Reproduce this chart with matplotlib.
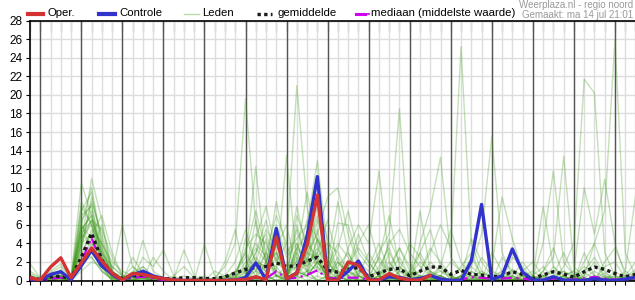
import matplotlib
matplotlib.use("Agg")
import matplotlib.pyplot as plt
from matplotlib.lines import Line2D

plt.rcParams['font.family'] = ['Liberation Sans', 'DejaVu Sans']

# 6-hourly steps, starting Ma 14 18:00
dagen = ["Di 15", "Wo 16", "Do 17", "Vr 18", "Za 19", "Zo 20", "Ma 21",
         "Di 22", "Wo 23", "Do 24", "Vr 25", "Za 26", "Zo 27", "Ma 28"]

oper = [0.3, 0.05, 1.45, 2.45, 0.3, 1.9, 3.5, 2.1, 0.8, 0.05, 0.75, 0.65, 0.4, 0.2, 0.05,
        0, 0, 0, 0, 0, 0.05, 0.1, 0.4, 0.1, 4.7, 0.2, 0.8, 3.8, 9.2, 0.05,
        0.05, 2.0, 1.65, 0.05, 0.05, 0.75, 0.25, 0.05, 0.05, 0.55]

controle = [0.2, 0, 0.65, 0.95, 0.1, 1.6, 3.25, 1.55, 0.7, 0.05, 0.6, 1.0, 0.5, 0.2, 0.05,
            0, 0, 0, 0, 0, 0.05, 0.3, 1.9, 0.1, 5.6, 0.2, 0.8, 4.8, 11.2, 0.1,
            0.1, 1.0, 2.1, 0.1, 0.05, 0.4, 0.3, 0.1, 0.2, 0.55, 0.15, 0, 0, 2.1, 8.2,
            0.1, 0.5, 3.4, 0.9, 0.05, 0.05, 0.4, 0.05, 0, 0, 0.2, 0.05, 0, 0.15, 0.35]

gemiddelde = [0.3, 0.1, 0.4, 0.45, 0.2, 2.5, 5.1, 2.2, 0.7, 0.2, 0.5, 0.6, 0.4, 0.2, 0.2,
              0.3, 0.3, 0.2, 0.2, 0.4, 0.8, 1.2, 1.4, 1.5, 1.9, 1.5, 1.6, 2.1, 2.5, 1.1,
              0.9, 1.2, 1.4, 0.4, 0.8, 1.2, 1.3, 0.5, 1.0, 1.45, 1.45, 0.65, 1.1, 0.65, 0.6,
              0.4, 0.5, 0.95, 0.65, 0.2, 0.6, 0.95, 0.7, 0.35, 0.95, 1.45, 1.2, 0.75, 0.4, 0.65]

mediaan = [0.1, 0, 0.2, 0.3, 0.1, 2.0, 4.6, 1.8, 0.5, 0.1, 0.3, 0.4, 0.2, 0.05, 0,
           0.05, 0.05, 0, 0, 0.05, 0.05, 0.1, 0.3, 0.2, 1.0, 0.2, 0.3, 0.6, 1.1, 0.2,
           0.3, 0.3, 0.3, 0.1, 0.15, 0.5, 0.4, 0.1, 0.2, 0.5, 0.2, 0.1, 0.1, 0.35, 0.3,
           0.2, 0.2, 0.3, 0.2, 0.05, 0.1, 0.2, 0.1, 0.1, 0.2, 0.4, 0.2, 0.1, 0.1, 0.2]

leden = [
    [0.2, 0, 0.5, 1.2, 0.1, 6.5, 8.2, 3.0, 0.4, 0, 0.3, 1.0, 0.2, 0, 0, 0.1, 0, 0, 0.3, 1.5, 4.0,
     19.6, 6.0, 2.0, 0.5, 0.2, 3.0, 1.0, 4.5, 1.0, 0.3, 2.0, 0.5, 0, 0, 0.5, 1.5, 0.3, 0, 0, 0.2,
     0, 0, 0.5, 0.2, 0, 0, 0, 0.5, 1.0, 0.2, 0, 0, 0, 0.5, 2.0, 0.3, 0, 0, 0.4],
    [1.8, 0.3, 0.2, 0.5, 0, 4.0, 11.0, 6.5, 1.0, 0.2, 0, 0.8, 0.5, 0.2, 0, 0, 0, 0, 0, 0.2, 0.8,
     2.5, 12.3, 1.5, 3.0, 0.5, 6.0, 2.0, 5.5, 0.5, 2.0, 0.5, 0, 0.3, 2.5, 1.0, 0, 0, 0.5, 0.2, 0,
     0.3, 0, 1.5, 0.5, 0, 0, 0.2, 0, 0, 0, 0.5, 1.0, 0.2, 0, 0.3, 0, 0.5, 0.2, 0],
    [0.5, 0, 1.0, 1.8, 0.2, 10.5, 7.0, 2.5, 0.5, 0, 0.5, 1.5, 0.3, 0.2, 0, 0, 0.2, 0, 0, 0, 0.5,
     3.5, 5.0, 4.0, 1.0, 13.5, 2.0, 3.5, 7.0, 2.0, 0.5, 0, 0.8, 0.2, 0, 3.0, 1.0, 0, 0, 0.3, 0.5,
     0, 0.2, 0, 0, 0.5, 1.0, 0.3, 0, 0, 0, 0, 0.2, 0.5, 1.5, 0.5, 0, 0, 0.3, 1.2],
    [0, 0, 0.2, 0.8, 0, 3.5, 9.0, 4.5, 0.8, 6.0, 1.5, 0.5, 0, 0, 0.3, 0, 0, 0.5, 0, 0.3, 1.0,
     1.0, 3.0, 6.5, 2.0, 4.0, 21.0, 8.0, 2.0, 0.3, 0, 1.5, 3.5, 2.0, 0.5, 0, 0, 1.0, 3.0, 0.8, 0,
     0.2, 0, 0, 0.5, 0, 0, 1.2, 0.5, 0, 0.5, 0.3, 0, 0, 0, 0.2, 0.8, 0, 0, 0],
    [0.3, 0, 0.5, 0.3, 0, 5.0, 6.5, 2.0, 0.3, 0, 0.2, 2.5, 1.5, 3.3, 0.5, 0, 0, 0, 0, 0, 0.3,
     0.8, 2.0, 1.5, 8.5, 3.0, 4.5, 6.0, 12.9, 3.5, 1.0, 0.5, 0, 0, 0.3, 0.5, 0, 0.5, 2.0, 1.0, 0.3,
     0, 0.5, 2.5, 0.5, 0, 0, 0, 0.2, 0.3, 0, 0, 0.5, 0, 0.2, 0, 0, 1.0, 0.2, 0],
    [0.8, 0.2, 0, 0.3, 0, 7.5, 9.5, 3.5, 0.5, 0.3, 0, 0.3, 0, 0, 0, 0.5, 0.2, 0, 0, 0, 0,
     0.5, 1.0, 4.5, 0.5, 1.5, 8.0, 3.0, 5.0, 9.0, 10.0, 5.0, 1.5, 0.5, 1.0, 0.2, 0, 0, 0, 0.5, 1.5,
     0.5, 0, 0.3, 0, 0, 0.3, 0.5, 0, 0, 0, 0, 0.3, 0, 0.8, 0.3, 0, 0, 0, 0.3],
    [0, 0, 0.3, 0.5, 0, 6.0, 4.5, 1.5, 0, 0, 0.5, 1.0, 0.2, 0, 0, 0, 0.3, 0, 0.2, 0.5, 0.3,
     2.0, 0.5, 0, 4.0, 0.8, 5.5, 2.0, 3.0, 0.5, 0, 3.5, 6.0, 4.0, 11.8, 2.0, 0.5, 0, 0.5, 0.3, 0,
     0, 0, 0.2, 1.0, 0.3, 0, 0, 0, 0.5, 1.5, 0.3, 0, 0, 0, 0.5, 0.2, 0, 0, 0],
    [0.2, 0, 0.2, 0.2, 0, 2.5, 5.5, 4.0, 1.5, 0.5, 0.3, 0.2, 0, 0, 0, 0, 0, 0, 0, 0.5, 2.0,
     5.5, 2.0, 1.0, 0.5, 0, 1.0, 3.0, 2.0, 0.5, 6.2, 6.0, 2.0, 1.0, 3.0, 5.0, 18.5, 2.0, 0.3, 0, 0,
     0, 0.5, 0, 0, 0, 1.0, 0.3, 0, 0, 0, 0.2, 0, 0.3, 0, 0, 0, 0, 0.5, 0.2],
    [0, 0, 0, 0.2, 0, 5.5, 7.0, 3.0, 0.2, 0, 2.5, 0.8, 0, 0, 0.2, 3.3, 0.5, 0, 0, 0, 0,
     0, 0.3, 2.0, 1.0, 0.5, 3.0, 9.5, 4.0, 0, 0.5, 1.0, 0.3, 0, 0.5, 2.0, 0.5, 0, 4.0, 7.7, 13.3,
     2.5, 1.0, 0.2, 0, 0, 0, 0.5, 2.0, 0.5, 0, 0, 0, 0, 0.3, 0, 0.5, 0.2, 0, 0],
    [0.5, 0, 0.8, 1.5, 0.3, 8.5, 6.0, 2.0, 0.3, 0, 0.3, 0.5, 0.5, 0, 0, 0, 0, 0.3, 0, 2.0, 5.5,
     0.5, 2.5, 1.0, 5.5, 1.0, 0.5, 2.0, 6.5, 3.0, 0.5, 0, 0, 0, 0, 0.8, 2.5, 0.5, 1.0, 3.0, 6.0,
     3.5, 25.2, 4.0, 1.0, 0.2, 0, 0, 0.3, 0, 0.5, 1.0, 0.2, 0, 0, 0, 0.3, 0.5, 0, 0],
    [0.3, 0, 0, 0.3, 0, 4.5, 6.5, 5.5, 2.5, 0.5, 0, 0.3, 0, 0, 0, 0, 0, 0, 0, 0, 0.2,
     1.5, 4.0, 2.5, 0.5, 0.3, 2.5, 1.5, 3.5, 1.5, 4.0, 2.5, 0.5, 0, 0.2, 0.5, 0, 1.0, 0.3, 0, 0.5,
     0, 0.3, 1.5, 5.0, 15.5, 3.0, 0.5, 0, 0, 0, 0.3, 1.0, 0.5, 0, 0, 0, 0, 0.2, 0.5],
    [0, 0, 0.3, 0.8, 0.2, 3.0, 5.0, 7.0, 3.0, 0.5, 0.5, 4.3, 1.0, 0.3, 0, 0, 0, 0, 0, 0, 0,
     0, 1.0, 3.0, 0.5, 0, 4.0, 1.0, 2.5, 0.3, 0, 1.5, 4.0, 6.0, 2.0, 1.0, 3.5, 1.5, 0.5, 0.2, 0.5,
     2.0, 1.0, 0.5, 0, 1.5, 9.0, 4.5, 1.0, 0.5, 0, 0, 0, 0, 0.3, 1.0, 0.3, 0, 0, 0.2],
    [1.0, 0.3, 0.5, 0.5, 0, 1.5, 4.0, 2.0, 0.5, 0.2, 0, 0.2, 2.5, 1.0, 0, 0, 0, 3.9, 0.5, 0, 0,
     0.3, 2.0, 1.5, 3.0, 0.5, 1.5, 4.5, 1.0, 2.0, 0.5, 0, 0, 0, 0.5, 0, 0, 0, 0, 2.0, 1.0,
     0.5, 0, 0, 0, 0, 0, 1.0, 0.5, 0.3, 4.0, 11.8, 2.0, 0.5, 0, 0, 0, 0, 0, 0],
    [0.2, 0, 0.5, 1.0, 0, 6.0, 3.5, 1.0, 0.2, 0, 0.8, 1.5, 0.5, 0, 0, 0, 0, 0, 0, 0.3, 0.8,
     3.0, 1.0, 0.5, 0, 0, 0.5, 3.0, 2.5, 4.0, 3.0, 1.0, 0.5, 0, 1.5, 3.5, 0.5, 0, 0.2, 0, 0,
     0, 0.5, 1.0, 0.3, 0, 0, 0, 0.5, 0, 1.0, 2.5, 13.4, 1.5, 0.3, 0, 0, 0.3, 0, 0.5],
    [0, 0, 0, 0.2, 0, 2.0, 3.0, 1.5, 0, 0, 0, 0.5, 0.3, 0, 0, 0, 0, 0, 0, 0.2, 0.5,
     1.0, 6.5, 2.0, 1.5, 0, 1.0, 0.5, 2.0, 0.5, 1.5, 3.0, 1.0, 0.5, 0, 0, 1.0, 0.5, 0, 0, 0,
     0, 0.3, 0, 0, 0.3, 0.5, 0, 0, 0, 0, 0, 1.5, 4.0, 21.7, 20.2, 3.0, 0.5, 0, 0],
    [0.5, 0.2, 0.5, 0.3, 0, 4.0, 5.0, 3.0, 1.0, 0.3, 0, 0, 0, 0, 0, 0, 0, 0, 0, 0, 0,
     0.5, 0, 1.0, 2.5, 0.5, 2.0, 1.0, 1.5, 0, 2.0, 1.0, 0, 0, 0, 0.3, 0, 0, 0, 0.5, 1.0,
     0.3, 0, 0, 0, 0, 0, 0, 0, 0.5, 0, 0, 0, 0, 2.0, 4.0, 7.5, 26.0, 3.0, 0.5],
    [0, 0, 0.2, 0.5, 0, 3.0, 2.5, 1.0, 0, 0, 0.3, 0.2, 0, 0, 0, 0, 0, 0, 0, 0, 0.3,
     0.5, 3.0, 5.0, 2.0, 1.0, 1.5, 0.5, 4.5, 2.5, 0, 0, 0.5, 0.3, 2.5, 7.0, 1.5, 0.5, 0, 0, 0,
     0, 0, 0, 0, 0, 0, 0, 0, 0, 0.5, 0, 0.5, 1.0, 10.0, 5.0, 10.9, 4.0, 0.5, 0],
    [0.3, 0, 0, 0.5, 0, 2.0, 4.5, 2.5, 0.5, 0, 0, 1.0, 0.5, 0, 0, 0, 0, 0, 0, 0, 0,
     0, 1.5, 1.0, 4.0, 0.5, 3.5, 2.0, 1.0, 0.5, 0.3, 1.5, 0, 0, 0, 0.5, 0.5, 0, 7.5, 1.0, 0,
     0, 0, 0, 0, 0, 0, 0, 0.5, 0, 0, 0, 0, 0, 0.3, 0, 2.0, 3.5, 1.0, 9.1],
    [0, 0, 0.2, 0.3, 0, 1.0, 2.0, 1.5, 0.5, 0.2, 1.0, 0.5, 0, 0, 0, 0, 0, 0, 0, 0, 0,
     0.3, 0, 0, 0.5, 0.5, 0.5, 1.0, 0, 0.5, 2.5, 0.5, 0, 0, 0, 0, 0, 0.5, 0.3, 0.5, 0.5,
     0, 0, 0, 0, 0, 0, 0, 0, 0.5, 8.0, 1.5, 0, 0, 0, 0, 0, 0, 0, 0.5],
    [0.2, 0, 0.3, 0.2, 0, 5.0, 7.5, 2.5, 0.3, 0, 0, 0, 0, 0, 0, 0, 0, 0, 0, 0, 0,
     0, 0, 0, 0.5, 0, 0.3, 0.5, 0, 0, 1.0, 0.3, 0, 0, 0, 0, 0, 0, 0, 0, 0,
     0, 0.3, 0.5, 0, 0, 0, 0, 0, 0, 0, 0, 0, 0.3, 0, 0, 0, 0, 0, 0],
    [0, 0, 0, 0, 0, 4.5, 6.0, 4.0, 2.0, 1.0, 0.5, 0.3, 0, 0, 0, 0, 0, 0, 1.0, 0.5, 0,
     0.3, 0.5, 0, 0, 0.3, 1.0, 0.5, 2.0, 0.5, 0, 0, 0, 0, 0.5, 0, 0, 0, 0.5, 0, 0,
     0, 0, 0, 0, 0, 0, 0, 0, 0, 0.3, 0, 0, 0, 0, 0, 0, 0, 0, 0.3],
    [0, 0, 0, 0.2, 0, 1.5, 3.0, 6.0, 1.0, 0, 0, 0, 0, 0, 0, 0, 0, 0, 0, 0, 0,
     0.5, 0, 0.5, 0, 0, 0, 1.0, 0, 0.5, 0, 0, 0, 0, 0, 0, 0, 0, 0, 0, 0.5,
     0, 0.5, 0, 0, 0, 0.3, 0, 0, 0, 0, 0, 0, 0.5, 0, 0, 0, 0, 0, 0],
    [0.1, 0, 0.3, 0.6, 0, 2.0, 2.5, 1.0, 0.2, 0, 0, 0, 0, 0, 0, 0, 0, 0, 0, 0, 0,
     0, 0.3, 0, 0, 0.5, 0, 0, 0.5, 0, 0, 0, 0, 0, 0.5, 0.3, 0, 0, 0, 0, 0,
     0, 0, 0, 0, 0, 0, 0.5, 0, 0, 0, 0, 0.5, 0, 0, 0, 0, 0, 0, 0],
    [0, 0, 0, 0, 0, 3.5, 8.5, 5.0, 1.0, 0, 0, 0, 0, 0, 0, 0, 0, 0, 0, 0, 0,
     0, 0, 0.5, 0, 0, 0.5, 0, 0, 0, 0.5, 0, 0, 0, 0, 0, 0, 0, 0, 0.5, 0,
     0, 0, 0, 0, 0, 0, 0, 0, 0, 0, 0, 0, 0, 0, 0, 0, 0, 0, 0],
    [0.5, 0, 0.3, 0.5, 0, 5.5, 7.0, 2.0, 0.5, 0, 0.5, 0.3, 0, 0, 0.5, 1.5, 0.3, 0, 0, 0, 0.5,
     1.5, 3.5, 2.0, 6.0, 2.5, 4.0, 1.5, 3.0, 6.5, 2.0, 0.5, 1.0, 0.5, 0, 4.5, 2.0, 0.5, 1.0, 3.5, 2.0,
     0.5, 0, 1.0, 0.3, 0, 2.5, 1.0, 0, 0, 0, 0.5, 3.0, 0.5, 1.0, 2.5, 0.5, 0, 0.5, 2.0],
    [0, 0, 0.5, 0.2, 0, 7.0, 8.0, 2.5, 1.0, 0.3, 1.5, 0.5, 0, 0, 0, 0, 0, 0, 0, 0.3, 1.0,
     3.0, 7.5, 3.0, 1.0, 0.5, 3.5, 5.0, 1.5, 0.5, 0, 1.5, 5.0, 2.0, 0.5, 0, 1.0, 4.0, 2.5, 0.5, 0,
     0, 0.5, 4.5, 2.0, 0.5, 0, 0, 1.0, 2.0, 0.5, 0, 0, 0, 3.0, 0.5, 0, 0, 1.0, 0.3],
    [0.3, 0, 0.2, 0.3, 0, 6.0, 10.0, 4.0, 0.5, 0, 0, 0.5, 0.5, 0, 0, 0, 0, 0.3, 0, 0.5, 0,
     0.5, 4.5, 8.0, 3.0, 1.0, 2.0, 6.5, 4.5, 2.0, 8.5, 3.0, 0.5, 0, 0, 1.5, 3.5, 1.0, 0, 0, 1.5,
     5.5, 2.0, 0.5, 0, 0, 0, 2.5, 1.5, 0, 0, 1.5, 0.5, 0, 0, 0, 1.5, 2.0, 0.3, 0],
    [0, 0, 0, 0.5, 0, 4.0, 6.5, 3.5, 0.5, 0, 0, 0, 0, 0, 0, 0, 0, 0, 0, 0.2, 0,
     4.5, 2.0, 5.5, 3.5, 6.0, 1.0, 0.5, 2.0, 1.0, 3.5, 7.5, 3.0, 1.5, 4.0, 1.0, 0, 0, 3.0, 5.5, 1.5,
     0, 0, 0, 2.5, 1.0, 0.5, 0, 0, 0, 0, 0, 0.5, 1.0, 0, 0, 0, 0, 0, 1.0],
    [0.6, 0.1, 0.3, 0.2, 0, 5.0, 4.0, 3.0, 1.5, 0.5, 0, 0, 0, 0, 0, 0, 0, 0, 0, 0, 0,
     0, 0.5, 3.0, 7.0, 4.0, 0.5, 2.5, 8.0, 4.5, 1.0, 0, 0.5, 3.0, 1.0, 0.5, 0, 0, 0, 1.0, 0.5,
     0, 1.5, 3.0, 0.5, 0, 0, 0, 0, 0, 0, 0, 0, 0, 0.5, 4.0, 1.0, 0, 0, 0],
    [0, 0, 0.2, 0.5, 0, 8.0, 6.0, 1.5, 0, 0, 0, 0, 0, 0, 0, 0, 0, 0, 0, 0, 0,
     1.0, 0, 2.0, 4.5, 0.5, 7.0, 4.0, 2.5, 0, 0.5, 2.0, 1.5, 0, 1.0, 4.0, 5.5, 3.0, 1.5, 0.5, 0,
     0, 0, 0, 0, 3.0, 1.0, 0, 0, 0, 1.0, 3.5, 0.5, 0, 0, 0.5, 0, 0, 0, 0],
]

n = len(controle)
x = list(range(n))

fig = plt.figure(figsize=(6.35, 3.0), dpi=100)
ax = fig.add_axes([30 / 635, 19.5 / 300, 605.5 / 635, 259.8 / 300])

for lid in leden:
    ax.plot(x, lid, color="#3d9a1a", alpha=0.3, lw=1.0, zorder=2)
ax.plot(x, mediaan, color="#d000f0", lw=1.6, ls=(0, (5, 2, 1, 2)), zorder=3)
ax.plot(x, gemiddelde, color="#1a1a1a", lw=2.4, ls=(0, (1, 1)), zorder=4)
ax.plot(x, controle, color="#3232cc", lw=2.4, zorder=5)
ax.plot(x[:len(oper)], oper, color="#d43333", lw=2.4, zorder=6)

ax.set_xlim(0, n - 1)
ax.set_ylim(0, 28)

# grid: every 6 hours light, day boundaries dark
ax.set_xticks(x)
ax.set_xticklabels([])
ax.grid(True, color="#dddddd", lw=1, zorder=0)
for d in range(1, n, 4):
    ax.axvline(d, color="#555555", lw=1, zorder=1)
ax.set_xticks([3 + 4 * k for k in range(len(dagen))], minor=True)
ax.set_xticklabels(dagen, minor=True, fontsize=9)
ax.tick_params(axis="x", which="major", direction="out", length=3, color="black")
ax.tick_params(axis="x", which="minor", length=0, pad=4.5)
ax.set_yticks(range(0, 29, 2))
ax.tick_params(axis="y", direction="out", length=3, pad=2.5, labelsize=8.5)
ax.set_axisbelow(True)

ax.spines["right"].set_visible(False)
ax.spines["top"].set_linewidth(1.2)
ax.spines["left"].set_linewidth(1.2)
ax.spines["bottom"].set_linewidth(1.2)

top = ax.secondary_xaxis("top")
top.set_xticks(x)
top.tick_params(direction="in", length=7, labeltop=False, color="#222222")

# legend above the plot
legend_items = [
    ("Oper.", dict(color="#d43333", lw=3), 28, 43, 48),
    ("Controle", dict(color="#3232cc", lw=3), 99, 115, 119),
    ("Leden", dict(color="#b8dba8", lw=1), 184, 199, 202),
    ("gemiddelde", dict(color="#1a1a1a", lw=2.4, ls=(0, (1, 1))), 257, 272, 277),
]
ly = 1 - 13.5 / 300
for label, style, x0, x1, tx in legend_items:
    fig.add_artist(Line2D([x0 / 635, x1 / 635], [ly, ly], **style))
    fig.text(tx / 635, ly, label, fontsize=8.2, va="center", ha="left")
fig.add_artist(Line2D([356 / 635, 365 / 635], [ly, ly], color="#d000f0", lw=2.2))
fig.add_artist(Line2D([367 / 635, 368.5 / 635], [ly, ly], color="#d000f0", lw=1.2))
fig.text(371 / 635, ly, "mediaan (middelste waarde)", fontsize=8.2, va="center", ha="left")

fig.text(633 / 635, 1 - 4.5 / 300, "Weerplaza.nl - regio noord", fontsize=7.0,
         color="#999999", ha="right", va="center")
fig.text(633 / 635, 1 - 14.5 / 300, "Gemaakt: ma 14 jul 21:01", fontsize=7.0,
         color="#999999", ha="right", va="center")

fig.savefig("out.png", dpi=100)
